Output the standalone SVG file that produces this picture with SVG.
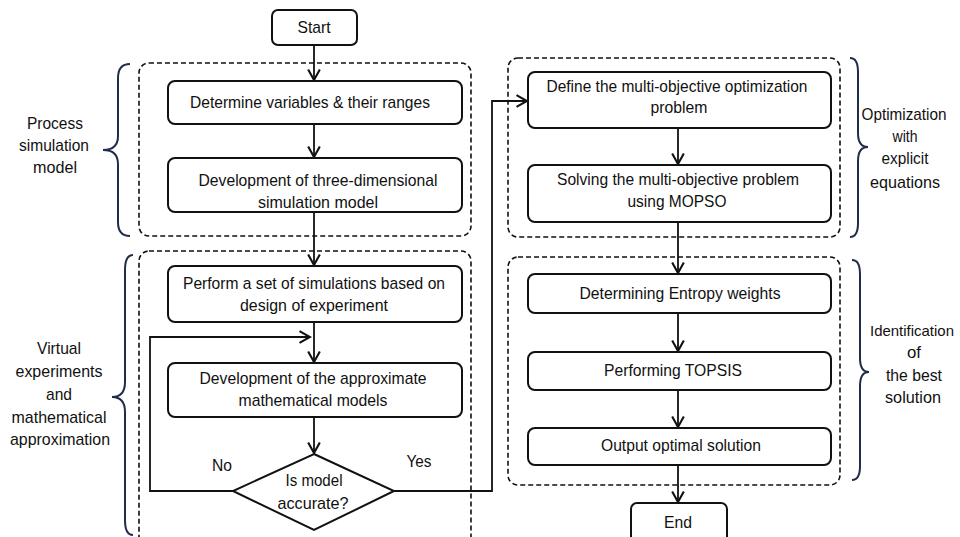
<svg xmlns="http://www.w3.org/2000/svg" width="960" height="537" viewBox="0 0 960 537">
<defs>
<style>
text{font-family:"Liberation Sans Narrow","Liberation Sans",Arial,sans-serif;font-size:17px;fill:#111;text-anchor:middle}
.box{fill:#fff;stroke:#111;stroke-width:2}
.grp{fill:none;stroke:#111;stroke-width:1.6;stroke-dasharray:5 3}
.con{fill:none;stroke:#111;stroke-width:1.8}
.brace{fill:none;stroke:#1f2d4a;stroke-width:2}
</style>
<marker id="ah" markerUnits="userSpaceOnUse" markerWidth="14" markerHeight="14" refX="10" refY="6" orient="auto" viewBox="0 0 12 12">
<path d="M1,1 L10,6 L1,11" fill="none" stroke="#111" stroke-width="1.8"/>
</marker>
</defs>
<rect width="960" height="537" fill="#fff"/>

<g id="groups">
<rect class="grp" x="139" y="63" width="332" height="173" rx="10"/>
<rect class="grp" x="139" y="251" width="332" height="300" rx="10"/>
<rect class="grp" x="508" y="58" width="332" height="179" rx="10"/>
<rect class="grp" x="508" y="257" width="332" height="228" rx="10"/>
</g>

<g id="braces">
<path class="brace" d="M130,64 Q118,64 118,78 L118,136 Q118,150 103,150 Q118,150 118,164 L118,222 Q118,236 130,236"/>
<path class="brace" d="M133,255 Q125,255 125,270 L125,382 Q125,397 112,397 Q125,397 125,412 L125,520 Q125,535 133,535"/>
<path class="brace" d="M850,58 Q858,58 858,72 L858,133 Q858,147 868,147 Q858,147 858,161 L858,223 Q858,237 850,237"/>
<path class="brace" d="M852,260 Q860,260 860,274 L860,358 Q860,372 869,372 Q860,372 860,386 L860,466 Q860,480 852,480"/>
</g>

<g id="labels">
<text x="55" y="129" textLength="56" lengthAdjust="spacingAndGlyphs">Process</text>
<text x="54" y="151" textLength="70" lengthAdjust="spacingAndGlyphs">simulation</text>
<text x="55" y="173" textLength="44" lengthAdjust="spacingAndGlyphs">model</text>
<text x="59" y="354" textLength="44" lengthAdjust="spacingAndGlyphs">Virtual</text>
<text x="59" y="377" textLength="87" lengthAdjust="spacingAndGlyphs">experiments</text>
<text x="59" y="400" textLength="26" lengthAdjust="spacingAndGlyphs">and</text>
<text x="59" y="423" textLength="95" lengthAdjust="spacingAndGlyphs">mathematical</text>
<text x="60" y="445" textLength="100" lengthAdjust="spacingAndGlyphs">approximation</text>
<text x="904" y="120" textLength="85" lengthAdjust="spacingAndGlyphs">Optimization</text>
<text x="905" y="142" textLength="25" lengthAdjust="spacingAndGlyphs">with</text>
<text x="905" y="164" textLength="47" lengthAdjust="spacingAndGlyphs">explicit</text>
<text x="905" y="188" textLength="70" lengthAdjust="spacingAndGlyphs">equations</text>
<text x="912" y="336" style="font-size:15px" textLength="84" lengthAdjust="spacingAndGlyphs">Identification</text>
<text x="914" y="358" textLength="14" lengthAdjust="spacingAndGlyphs">of</text>
<text x="914" y="381" textLength="56" lengthAdjust="spacingAndGlyphs">the best</text>
<text x="913" y="403" textLength="56" lengthAdjust="spacingAndGlyphs">solution</text>
<text x="222" y="471" textLength="20" lengthAdjust="spacingAndGlyphs">No</text>
<text x="419" y="467" textLength="25" lengthAdjust="spacingAndGlyphs">Yes</text>
</g>

<g id="connectors">
<line class="con" x1="314" y1="45" x2="314" y2="80" marker-end="url(#ah)"/>
<line class="con" x1="314" y1="124" x2="314" y2="157" marker-end="url(#ah)"/>
<line class="con" x1="314" y1="212" x2="314" y2="265" marker-end="url(#ah)"/>
<line class="con" x1="314" y1="322" x2="314" y2="362" marker-end="url(#ah)"/>
<polyline class="con" points="233,491 150,491 150,337 310,337" marker-end="url(#ah)"/>
<line class="con" x1="314" y1="417" x2="314" y2="453" marker-end="url(#ah)"/>
<polyline class="con" points="394,491 492,491 492,101 527,101" marker-end="url(#ah)"/>
<line class="con" x1="678" y1="128" x2="678" y2="164" marker-end="url(#ah)"/>
<line class="con" x1="678" y1="222" x2="678" y2="273" marker-end="url(#ah)"/>
<line class="con" x1="678" y1="313" x2="678" y2="351" marker-end="url(#ah)"/>
<line class="con" x1="678" y1="390" x2="678" y2="427" marker-end="url(#ah)"/>
<line class="con" x1="678" y1="465" x2="678" y2="502" marker-end="url(#ah)"/>
</g>

<g id="start">
<rect class="box" x="272" y="10" width="85" height="35" rx="6"/>
<text x="314" y="33" textLength="33" lengthAdjust="spacingAndGlyphs">Start</text>
</g>
<g id="determine">
<rect class="box" x="168" y="81" width="294" height="43" rx="7"/>
<text x="310" y="108" textLength="240" lengthAdjust="spacingAndGlyphs">Determine variables &amp; their ranges</text>
</g>
<g id="development3d">
<rect class="box" x="168" y="158" width="294" height="54" rx="7"/>
<text x="318" y="186" textLength="239" lengthAdjust="spacingAndGlyphs">Development of three-dimensional</text>
<text x="318" y="208" textLength="120" lengthAdjust="spacingAndGlyphs">simulation model</text>
</g>
<g id="perform">
<rect class="box" x="168" y="266" width="294" height="56" rx="7"/>
<text x="314" y="289" textLength="262" lengthAdjust="spacingAndGlyphs">Perform a set of simulations based on</text>
<text x="314" y="311" textLength="148" lengthAdjust="spacingAndGlyphs">design of experiment</text>
</g>
<g id="approx">
<rect class="box" x="168" y="363" width="294" height="54" rx="7"/>
<text x="313" y="384" textLength="227" lengthAdjust="spacingAndGlyphs">Development of the approximate</text>
<text x="313" y="406" textLength="149" lengthAdjust="spacingAndGlyphs">mathematical models</text>
</g>
<g id="decision">
<polygon class="box" points="314,454 394,491 314,530 233,491"/>
<text x="314" y="486" textLength="57" lengthAdjust="spacingAndGlyphs">Is model</text>
<text x="313" y="509" textLength="71" lengthAdjust="spacingAndGlyphs">accurate?</text>
</g>
<g id="define">
<rect class="box" x="528" y="72" width="303" height="56" rx="7"/>
<text x="677" y="92" textLength="261" lengthAdjust="spacingAndGlyphs">Define the multi-objective optimization</text>
<text x="679" y="113" textLength="57" lengthAdjust="spacingAndGlyphs">problem</text>
</g>
<g id="solving">
<rect class="box" x="528" y="165" width="303" height="57" rx="7"/>
<text x="678" y="185" textLength="242" lengthAdjust="spacingAndGlyphs">Solving the multi-objective problem</text>
<text x="677" y="207" textLength="99" lengthAdjust="spacingAndGlyphs">using MOPSO</text>
</g>
<g id="entropy">
<rect class="box" x="528" y="274" width="303" height="39" rx="7"/>
<text x="680" y="299" textLength="201" lengthAdjust="spacingAndGlyphs">Determining Entropy weights</text>
</g>
<g id="topsis">
<rect class="box" x="528" y="352" width="303" height="38" rx="7"/>
<text x="673" y="376" textLength="138" lengthAdjust="spacingAndGlyphs">Performing TOPSIS</text>
</g>
<g id="output">
<rect class="box" x="528" y="428" width="303" height="37" rx="7"/>
<text x="681" y="451" textLength="160" lengthAdjust="spacingAndGlyphs">Output optimal solution</text>
</g>
<g id="end">
<rect class="box" x="631" y="503" width="96" height="40" rx="6"/>
<text x="678" y="528" textLength="28" lengthAdjust="spacingAndGlyphs">End</text>
</g>
</svg>
